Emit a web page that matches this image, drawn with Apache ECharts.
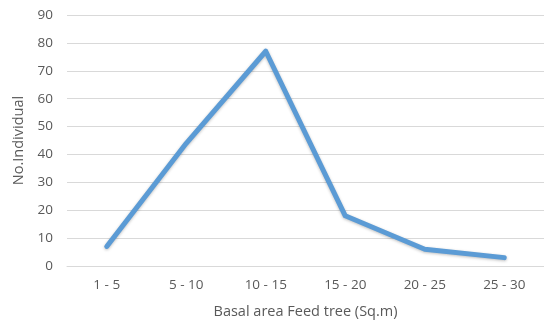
<!DOCTYPE html>
<html>
<head>
<meta charset="utf-8">
<script src="https://cdn.jsdelivr.net/npm/echarts@6/dist/echarts.min.js"></script>
<style>
  html, body { margin: 0; padding: 0; background: #fff; }
  #chart { width: 544px; height: 324px; }
</style>
</head>
<body>
<div id="chart"></div>
<script>
var categories = ['1 - 5', '5 - 10', '10 - 15', '15 - 20', '20 - 25', '25 - 30'];
var individuals = [7, 44, 77, 18, 6, 3];

var myChart = echarts.init(document.getElementById('chart'));

var labelFont = {
    color: '#595959',
    fontFamily: 'Open Sans',
    fontSize: 13.5
};

var option = {
    animation: false,
    grid: {
        left: 67,
        right: 0,
        top: 15,
        bottom: 58
    },
    xAxis: {
        type: 'category',
        data: categories,
        boundaryGap: true,
        name: 'Basal area Feed tree (Sq.m)',
        nameLocation: 'middle',
        nameGap: 38,
        nameTextStyle: { color: '#595959', fontFamily: 'Open Sans', fontSize: 14.5 },
        axisLine: { lineStyle: { color: '#d9d9d9', width: 1 } },
        axisTick: { show: false },
        axisLabel: Object.assign({ margin: 12 }, labelFont)
    },
    yAxis: {
        type: 'value',
        min: 0,
        max: 90,
        interval: 10,
        name: 'No.Individual',
        nameLocation: 'middle',
        nameGap: 40,
        nameTextStyle: { color: '#595959', fontFamily: 'Open Sans', fontSize: 14.5 },
        axisLine: { show: false },
        axisTick: { show: false },
        axisLabel: Object.assign({ margin: 14 }, labelFont),
        splitLine: { lineStyle: { color: '#d9d9d9', width: 1 } }
    },
    series: [{
        type: 'line',
        data: individuals,
        showSymbol: false,
        lineStyle: {
            color: '#5b9bd5',
            width: 5,
            cap: 'round',
            join: 'round',
            shadowColor: 'rgba(0,0,0,0.25)',
            shadowBlur: 3,
            shadowOffsetY: 1
        }
    }]
};

myChart.setOption(option);
</script>
</body>
</html>
